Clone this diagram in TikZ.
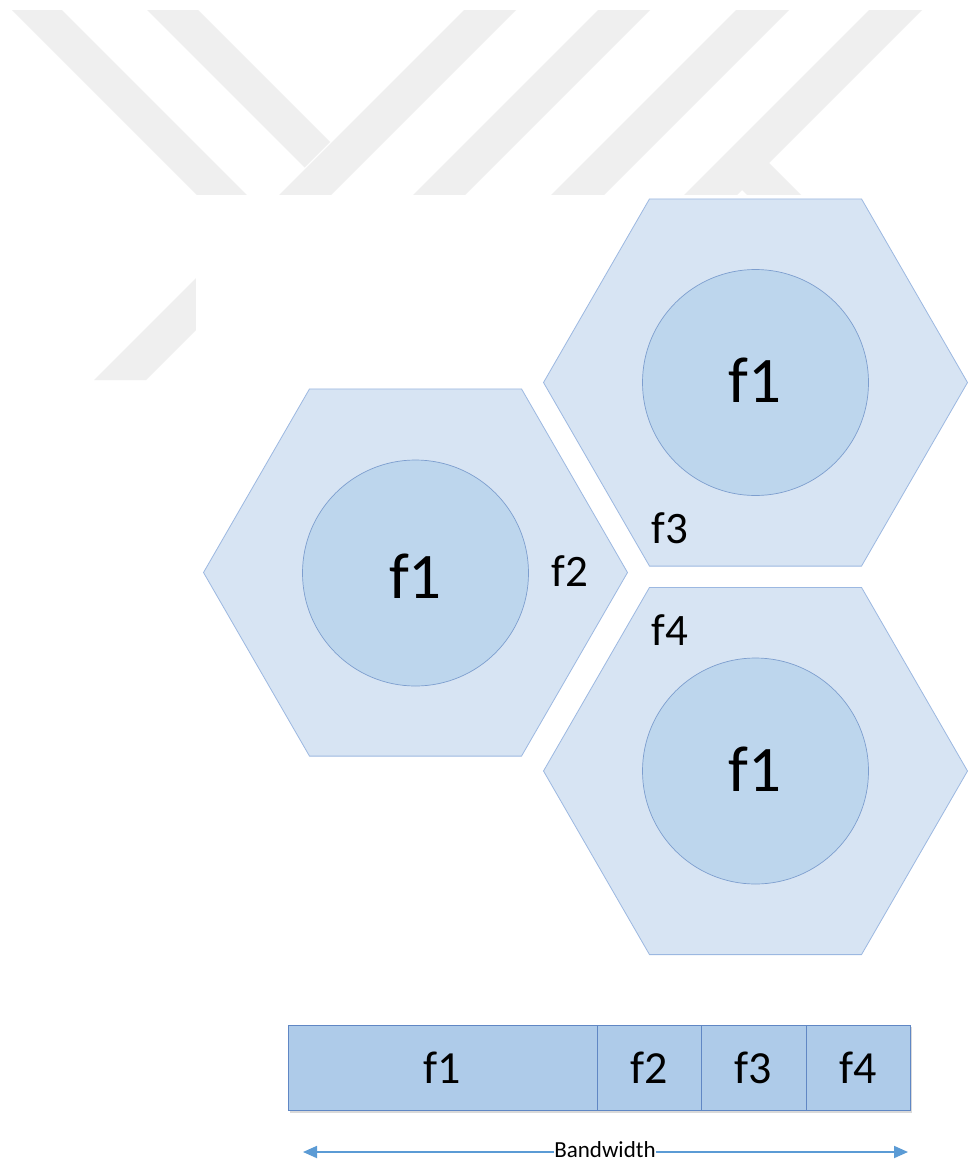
\documentclass[tikz,border=0pt]{standalone}
\usepackage{fontspec}
\setmainfont{Carlito}
\usetikzlibrary{shapes.geometric,arrows.meta}
\definecolor{wm}{RGB}{239,239,239}
\definecolor{hexfill}{RGB}{215,228,243}
\definecolor{hexdraw}{RGB}{156,184,225}
\definecolor{circfill}{RGB}{189,214,237}
\definecolor{circdraw}{RGB}{125,158,206}
\definecolor{barfill}{RGB}{174,203,233}
\definecolor{bardraw}{RGB}{96,135,196}
\definecolor{arrowc}{RGB}{91,155,213}
\tikzset{
  cell/.style={regular polygon, regular polygon sides=6, minimum size=424pt,
    inner sep=0pt, outer sep=0pt, fill=hexfill, draw=hexdraw, line width=0.8pt},
  core/.style={circle, minimum size=226pt, inner sep=0pt, outer sep=0pt,
    fill=circfill, draw=circdraw, line width=0.7pt},
  biglabel/.style={font=\fontsize{65}{65}\selectfont, inner sep=0pt},
  smalllabel/.style={font=\fontsize{45}{45}\selectfont, inner sep=0pt},
  band/.style={rectangle, minimum height=85pt, inner sep=0pt, outer sep=0pt,
    fill=barfill, draw=bardraw, line width=0.8pt,
    font=\fontsize{46}{46}\selectfont},
  stripe/.style={fill=wm, draw=none},
  bwline/.style={arrowc, line width=1.8pt},
  >={Triangle[length=14pt,width=12pt]}
}
\begin{document}
\begin{tikzpicture}[x=1pt,y=1pt,yscale=-1]
\useasboundingbox (0,0) rectangle (977,1162);
\fill[white] (0,0) rectangle (977,1162);
% watermark
\fill[stripe] (12,10) -- (62,10) -- (247,195) -- (197,195) -- cycle;
\fill[stripe] (147,10) -- (198,10) -- (330,142) -- (304.5,167.5) -- cycle;
\fill[stripe] (464,10) -- (516,10) -- (146,380) -- (94,380) -- cycle;
\fill[stripe] (598,10) -- (650,10) -- (465,195) -- (413,195) -- cycle;
\fill[stripe] (736,10) -- (789,10) -- (604,195) -- (551,195) -- cycle;
\fill[stripe] (869,10) -- (922,10) -- (737,195) -- (684,195) -- cycle;
\fill[stripe] (742,190) -- (747,195) -- (801,195) -- (769,163) -- (750,163) -- cycle;
\fill[white] (196,195) rectangle (977,1162);
% hexagonal cells
\node[cell] (hexA) at (415.5,572.5) {};
\node[cell] (hexB) at (755.5,382.5) {};
\node[cell] (hexC) at (755.5,771) {};
\node[core] (cirA) at (415.5,573) {};
\node[core] (cirB) at (755.5,382.5) {};
\node[core] (cirC) at (755.5,771) {};
\node[biglabel] (lA) at (415.5,576) {f1};
\node[biglabel] (lB) at (755,380) {f1};
\node[biglabel] (lC) at (755,769) {f1};
\node[smalllabel] (f2) at (570,571) {f2};
\node[smalllabel] (f3) at (670,528) {f3};
\node[smalllabel] (f4) at (670,630) {f4};
% bandwidth bar
\fill[black!15] (290,1027) rectangle (912,1113);
\node[band, minimum width=309pt] (b1) at (442.5,1067.5) {f1};
\node[band, minimum width=104pt] (b2) at (649,1067.5) {f2};
\node[band, minimum width=105pt] (b3) at (753.5,1067.5) {f3};
\node[band, minimum width=104pt] (b4) at (858,1067.5) {f4};
% bandwidth arrow
\coordinate (al) at (303,1152);
\coordinate (ar) at (908,1152);
\node[inner sep=0.5pt, font=\fontsize{23}{23}\selectfont] (bw) at (605,1150) {Bandwidth};
\draw[bwline, <-] (al) -- (bw.west |- al);
\draw[bwline, ->] (bw.east |- ar) -- (ar);
\end{tikzpicture}
\end{document}
